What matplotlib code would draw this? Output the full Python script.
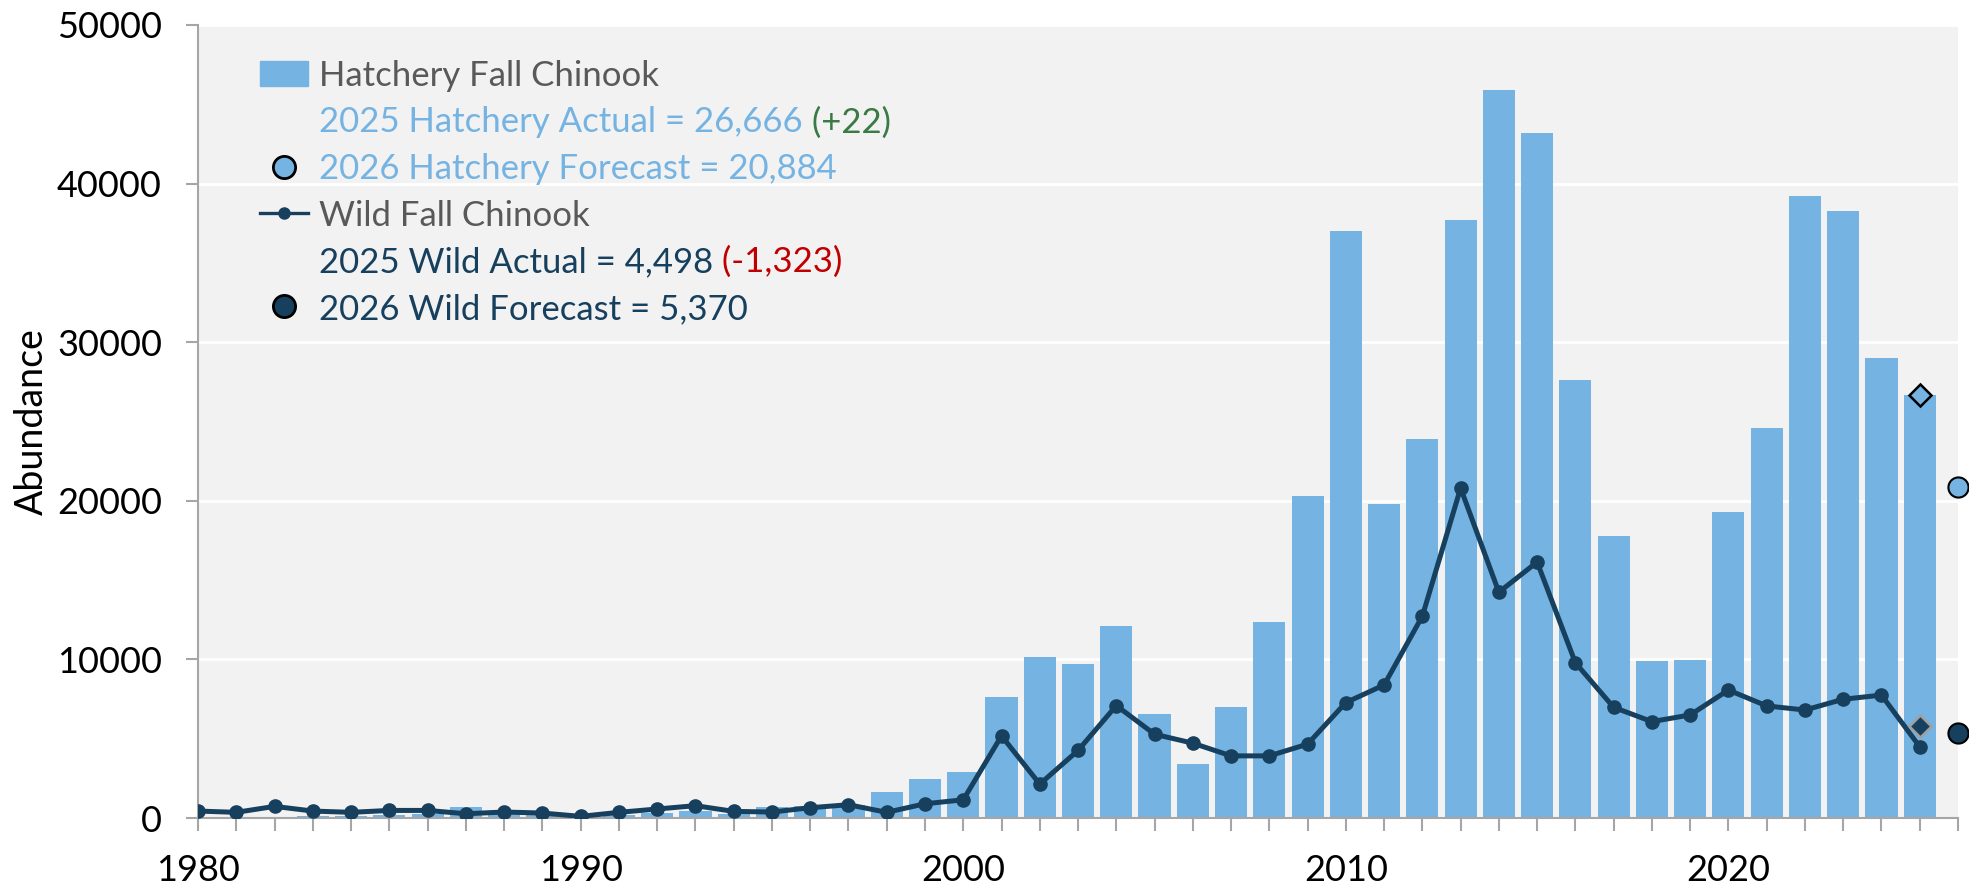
import matplotlib
matplotlib.use("Agg")
import matplotlib.pyplot as plt
from matplotlib.lines import Line2D
from matplotlib.patches import Patch

plt.rcParams['font.family'] = ['Lato', 'DejaVu Sans']

years = list(range(1980, 2026))
hatchery = [0, 0, 0, 100, 150, 210, 270, 700, 350, 250,
            100, 200, 315, 420, 270, 700, 735, 840, 1620, 2460,
            2880, 7650, 10180, 9710, 12090, 6540, 3410, 6970, 12390, 20330,
            37000, 19800, 23900, 37700, 45900, 43200, 27600, 17800, 9890, 9950,
            19300, 24600, 39200, 38300, 29000, 26666]
wild = [440, 360, 735, 440, 360, 480, 480, 270, 380, 315,
        105, 360, 570, 780, 420, 380, 650, 840, 360, 900,
        1150, 5180, 2140, 4260, 7090, 5285, 4720, 3920, 3920, 4660,
        7280, 8390, 12730, 20800, 14240, 16140, 9790, 6980, 6080, 6500,
        8070, 7070, 6810, 7490, 7750, 4498]

# 2025 forecasts (actual minus the difference) and 2026 forecasts
hatch_fc_2025 = 26666 - 22
wild_fc_2025 = 4498 + 1323
hatch_fc_2026 = 20884
wild_fc_2026 = 5370

LIGHT = '#74B3E2'
NAVY = '#17405E'
GREY_TXT = '#595959'
FS = 25

fig = plt.figure(figsize=(19.69, 8.86), dpi=100)
ax = fig.add_axes([0.1006, 0.0767, 0.8938, 0.8951])
ax.set_facecolor('#F2F2F2')

ax.bar(years, hatchery, width=0.84, color=LIGHT, zorder=2)
ax.plot(years, wild, color=NAVY, lw=3.6, marker='o', ms=9.5, zorder=3)

ax.plot([2025], [hatch_fc_2025], marker='D', ms=11.5, mfc=LIGHT, mec='black',
        mew=1.8, ls='none', zorder=4)
ax.plot([2025], [wild_fc_2025], marker='D', ms=11.5, mfc=NAVY, mec='#A0A0A0',
        mew=1.8, ls='none', zorder=4)
ax.plot([2026], [hatch_fc_2026], marker='o', ms=14.5, mfc=LIGHT, mec='black',
        mew=1.5, ls='none', zorder=5, clip_on=False)
ax.plot([2026], [wild_fc_2026], marker='o', ms=14.5, mfc=NAVY, mec='black',
        mew=1.5, ls='none', zorder=5, clip_on=False)

ax.set_xlim(1980, 2026)
ax.set_ylim(0, 50000)
ax.set_xticks(range(1980, 2027))
ax.set_xticklabels([str(y) if y % 10 == 0 else '' for y in range(1980, 2027)])
ax.set_yticks(range(0, 50001, 10000))
ax.yaxis.grid(True, color='white', lw=2, zorder=1)
ax.set_axisbelow(True)

for s in ['top', 'right']:
    ax.spines[s].set_visible(False)
for s in ['left', 'bottom']:
    ax.spines[s].set_color('#A6A6A6')
    ax.spines[s].set_linewidth(1.5)
ax.tick_params(axis='both', colors='#A6A6A6', length=9, width=1.5,
               labelsize=26, labelcolor='black', pad=17)
ax.set_ylabel('Abundance', fontsize=27)
ax.yaxis.set_label_coords(-0.084, 0.5)

handles = [
    Patch(color=LIGHT),
    Line2D([], [], ls='none'),
    Line2D([], [], ls='none', marker='o', ms=16, mfc=LIGHT, mec='black', mew=2),
    Line2D([], [], color=NAVY, lw=2.4, marker='o', ms=8),
    Line2D([], [], ls='none'),
    Line2D([], [], ls='none', marker='o', ms=16, mfc=NAVY, mec='black', mew=2),
]
labels = ['Hatchery Fall Chinook',
          '2025 Hatchery Actual = 26,666',
          '2026 Hatchery Forecast = 20,884',
          'Wild Fall Chinook',
          '2025 Wild Actual = 4,498',
          '2026 Wild Forecast = 5,370']
leg = ax.legend(handles, labels, loc='upper left', bbox_to_anchor=(0.0352, 0.956),
                frameon=False, fontsize=FS, handlelength=1.38, handleheight=0.74,
                handletextpad=0.32, labelspacing=0.42, borderaxespad=0,
                borderpad=0)
text_colors = [GREY_TXT, LIGHT, LIGHT, GREY_TXT, NAVY, NAVY]
for t, c in zip(leg.get_texts(), text_colors):
    t.set_color(c)

txts = leg.get_texts()
ax.annotate(' (+22)', xy=(1, 0), xycoords=txts[1], va='bottom', ha='left',
            fontsize=FS, color='#3A7A45', zorder=10)
ax.annotate(' (-1,323)', xy=(1, 0), xycoords=txts[4], va='bottom', ha='left',
            fontsize=FS, color='#C00000', zorder=10)

fig.savefig('out.png', dpi=100)
